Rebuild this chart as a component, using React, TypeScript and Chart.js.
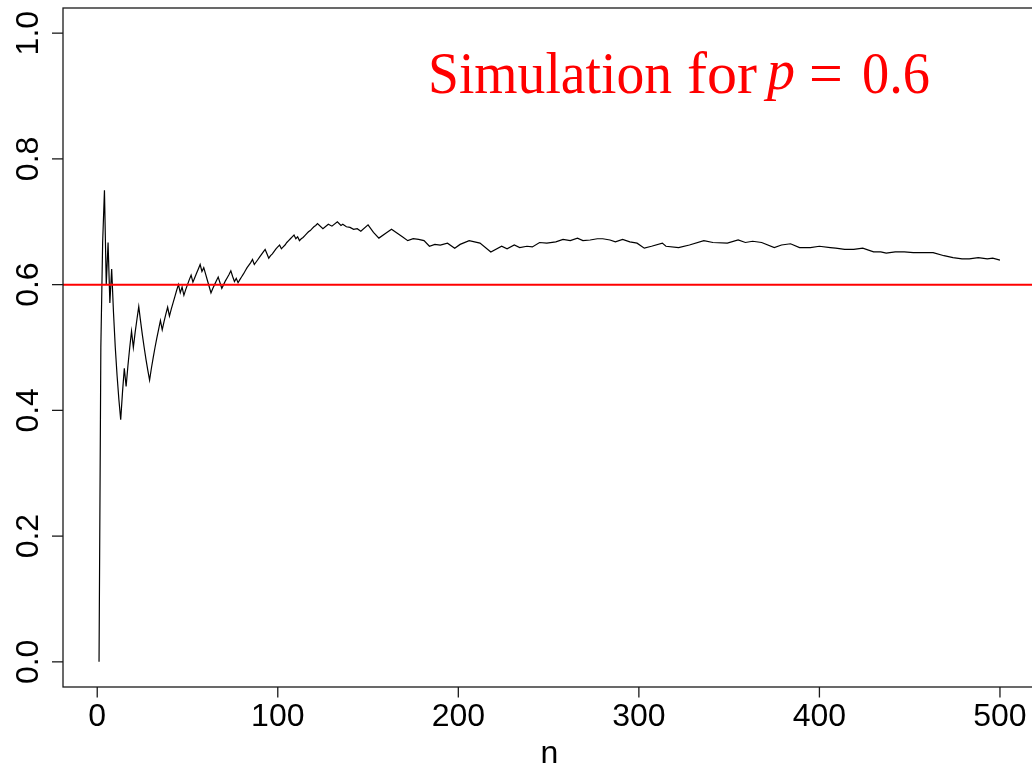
import { useEffect, useRef } from "react";
import { Chart, registerables } from "chart.js";

Chart.register(...registerables);

// Number of trials n (x) and running proportion of successes (y)
const trialNumbers: number[] = [
  1, 2, 3, 4, 5, 6, 7, 8, 9, 10, 11, 12, 13, 14, 15, 16, 17, 18, 19, 20,
  21, 22, 23, 24, 25, 26, 27, 28, 29, 30, 31, 32, 33, 34, 35, 36, 37, 38, 39, 40,
  41, 42, 43, 44, 45, 46, 47, 48, 49, 50, 51, 52, 53, 54, 55, 56, 57, 58, 59, 60,
  61, 62, 63, 64, 65, 66, 67, 68, 69, 70, 71, 72, 73, 74, 75, 76, 77, 78, 79, 80,
  81, 82, 83, 84, 85, 86, 87, 88, 89, 90, 91, 92, 93, 94, 95, 96, 97, 98, 99, 100,
  101, 102, 103, 104, 105, 106, 107, 108, 109, 110, 111, 112, 113, 114, 115, 116, 117, 118, 119, 120,
  121, 122, 125, 128, 130, 133, 135, 136, 138, 140, 142, 144, 146, 150, 153, 156, 160, 163, 166, 169,
  172, 175, 178, 181, 184, 187, 190, 194, 198, 201, 206, 209, 212, 218, 224, 227, 231, 234, 238, 241,
  245, 249, 254, 258, 262, 266, 269, 273, 277, 280, 284, 287, 291, 295, 299, 303, 307, 313, 315, 322,
  328, 336, 341, 349, 355, 359, 363, 368, 375, 379, 384, 389, 395, 400, 406, 409, 414, 419, 424, 430,
  434, 437, 442, 447, 452, 457, 463, 469, 474, 479, 483, 488, 493, 496, 500,
];

const successShare: number[] = [
  0, 0.5, 0.667, 0.75, 0.6, 0.667, 0.571, 0.625, 0.556, 0.5, 0.455, 0.417, 0.385, 0.429, 0.467, 0.438, 0.471, 0.5, 0.526, 0.5,
  0.524, 0.545, 0.565, 0.542, 0.52, 0.5, 0.481, 0.464, 0.448, 0.467, 0.484, 0.5, 0.515, 0.529, 0.543, 0.528, 0.541, 0.553, 0.564, 0.55,
  0.561, 0.571, 0.581, 0.591, 0.6, 0.587, 0.596, 0.583, 0.592, 0.6, 0.608, 0.615, 0.604, 0.611, 0.618, 0.625, 0.632, 0.621, 0.627, 0.617,
  0.607, 0.597, 0.587, 0.594, 0.6, 0.606, 0.612, 0.603, 0.594, 0.6, 0.606, 0.611, 0.616, 0.622, 0.613, 0.605, 0.61, 0.603, 0.608, 0.6125,
  0.617, 0.622, 0.627, 0.631, 0.635, 0.64, 0.632, 0.636, 0.64, 0.644, 0.648, 0.652, 0.656, 0.649, 0.642, 0.646, 0.649, 0.653, 0.657, 0.66,
  0.663, 0.657, 0.66, 0.663, 0.667, 0.67, 0.673, 0.676, 0.679, 0.673, 0.676, 0.67, 0.673, 0.675, 0.678, 0.681, 0.684, 0.686, 0.689, 0.692,
  0.694, 0.697, 0.689, 0.696, 0.693, 0.7, 0.694, 0.696, 0.692, 0.691, 0.688, 0.689, 0.685, 0.695, 0.683, 0.674, 0.682, 0.688, 0.682, 0.676,
  0.67, 0.673, 0.672, 0.67, 0.661, 0.664, 0.663, 0.666, 0.658, 0.664, 0.67, 0.668, 0.666, 0.652, 0.661, 0.657, 0.663, 0.659, 0.661, 0.66,
  0.667, 0.666, 0.668, 0.672, 0.67, 0.674, 0.67, 0.671, 0.673, 0.673, 0.671, 0.668, 0.672, 0.668, 0.666, 0.658, 0.661, 0.666, 0.661, 0.659,
  0.663, 0.67, 0.667, 0.666, 0.671, 0.667, 0.669, 0.667, 0.659, 0.663, 0.665, 0.659, 0.659, 0.661, 0.659, 0.658, 0.656, 0.656, 0.658, 0.652,
  0.652, 0.65, 0.652, 0.652, 0.651, 0.651, 0.651, 0.646, 0.643, 0.641, 0.641, 0.643, 0.641, 0.642, 0.639,
];

const trueProbability = 0.6;
const xTickValues: number[] = [0, 100, 200, 300, 400, 500];
const yTickValues: number[] = [0, 0.2, 0.4, 0.6, 0.8, 1.0];
const yTickLabels: string[] = ["0.0", "0.2", "0.4", "0.6", "0.8", "1.0"];
const xAxisTitle = "n";
const titleParts: string[] = ["Simulation", "for", "p", "=", "0.6"];

// R-style axis limits: data range extended by 4% on each side
const xMin = 1 - 0.04 * 499;
const xMax = 500 + 0.04 * 499;
const yMin = -0.04;
const yMax = 1.04;

const rStylePlugin = {
  id: "rStyle",
  afterDraw(chart: any) {
    const { ctx, chartArea } = chart;
    const xs = chart.scales.x;
    const ys = chart.scales.y;
    const { left, right, top, bottom } = chartArea;
    ctx.save();
    // box
    ctx.strokeStyle = "#1a1a1a";
    ctx.lineWidth = 1.3;
    ctx.strokeRect(left, top, right - left, bottom - top);

    // x ticks and labels
    ctx.fillStyle = "#000";
    ctx.font = '32px "Liberation Sans", Arial, sans-serif';
    ctx.textAlign = "center";
    ctx.textBaseline = "alphabetic";
    xTickValues.forEach((v) => {
      const px = xs.getPixelForValue(v);
      ctx.beginPath();
      ctx.moveTo(px, bottom);
      ctx.lineTo(px, bottom + 10.5);
      ctx.stroke();
      ctx.fillText(String(v), px, bottom + 39);
    });
    // y ticks and rotated labels
    yTickValues.forEach((v, i) => {
      const py = ys.getPixelForValue(v);
      ctx.beginPath();
      ctx.moveTo(left - 11, py);
      ctx.lineTo(left, py);
      ctx.stroke();
      ctx.save();
      ctx.translate(left - 25, py);
      ctx.rotate(-Math.PI / 2);
      ctx.fillText(yTickLabels[i], 0, 0);
      ctx.restore();
    });
    // x axis title
    ctx.fillText(xAxisTitle, (left + right) / 2, bottom + 76);

    // red title text
    ctx.fillStyle = "#FF0000";
    ctx.textAlign = "left";
    ctx.font = '60px "Liberation Serif", "Times New Roman", serif';
    ctx.fillText(titleParts[0], 428, 93, 244);
    ctx.fillText(titleParts[1], 687, 93, 72);
    ctx.fillText(titleParts[3], 809, 93, 36);
    ctx.fillText(titleParts[4], 862, 93, 68);
    ctx.font = 'italic 58px "Liberation Serif", "Times New Roman", serif';
    ctx.fillText(titleParts[2], 767, 89, 28);
    ctx.restore();
  },
};

export default function App() {
  const canvasRef = useRef<HTMLCanvasElement | null>(null);

  useEffect(() => {
    document.body.style.margin = "0";
    document.body.style.overflow = "hidden";
    const canvas = canvasRef.current;
    if (!canvas) return;
    const points = trialNumbers.map((n, i) => ({ x: n, y: successShare[i] }));
    const chart = new Chart(canvas, {
      type: "line",
      data: {
        datasets: [
          {
            label: "p",
            data: [
              { x: xMin, y: trueProbability },
              { x: xMax, y: trueProbability },
            ],
            borderColor: "#FF0000",
            borderWidth: 2,
            pointRadius: 0,
            tension: 0,
          },
          {
            label: "proportion",
            data: points,
            borderColor: "#000000",
            borderWidth: 1.2,
            pointRadius: 0,
            tension: 0,
          },
        ],
      },
      options: {
        animation: false,
        responsive: false,
        maintainAspectRatio: false,
        layout: { padding: { left: 63, top: 8, right: 4, bottom: 79 } },
        plugins: { legend: { display: false }, tooltip: { enabled: false }, title: { display: false } },
        scales: {
          x: { type: "linear", min: xMin, max: xMax, display: false },
          y: { type: "linear", min: yMin, max: yMax, display: false },
        },
      },
      plugins: [rStylePlugin],
    });
    return () => chart.destroy();
  }, []);

  return (
    <div style={{ position: "fixed", left: 0, top: 0, width: 1040, height: 766, background: "#fff" }}>
      <canvas ref={canvasRef} width={1040} height={766} style={{ width: 1040, height: 766, display: "block" }} />
    </div>
  );
}
